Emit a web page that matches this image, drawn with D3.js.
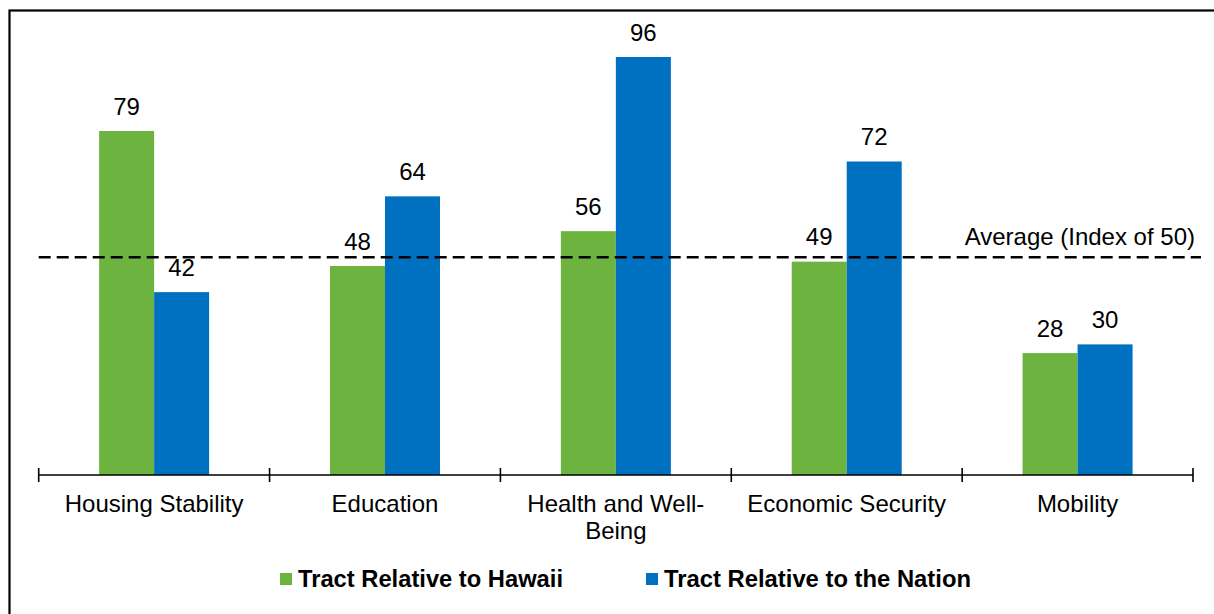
<!DOCTYPE html>
<html>
<head>
<meta charset="utf-8">
<script src="https://cdn.jsdelivr.net/npm/d3@7"></script>
<style>
  body { margin: 0; background: #fff; }
  svg { display: block; font-family: "Liberation Sans", Arial, sans-serif; }
</style>
</head>
<body>
<svg id="chart" width="1214" height="614"></svg>
<script>
// chart values
const categories = ["Housing Stability", "Education", "Health and Well-Being", "Economic Security", "Mobility"];
const hawaiiValues = [79, 48, 56, 49, 28];
const nationValues = [42, 64, 96, 72, 30];
const seriesNames = ["Tract Relative to Hawaii", "Tract Relative to the Nation"];
const averageValue = 50;
const averageLabel = "Average (Index of 50)";

const colors = ["#6db33f", "#0070c0"];
const fontSize = 24;

const svg = d3.select("#chart");

// frame (only top and left edges fall inside the picture)
svg.append("rect")
    .attr("x", 9.5).attr("y", 10.5)
    .attr("width", 1220).attr("height", 620)
    .attr("fill", "none")
    .attr("stroke", "#000")
    .attr("stroke-width", 2.2);

let plot = { left: 38.7, right: 1193, top: 39.6, bottom: 475 };

let x = d3.scaleBand()
    .domain(categories)
    .range([plot.left, plot.right]);

let inner = d3.scaleBand()
    .domain([0, 1])
    .range([0, 110]);

let y = d3.scaleLinear()
    .domain([0, 100])
    .range([plot.bottom, plot.top]);

let rows = categories.map((c, i) => ({ cat: c, values: [hawaiiValues[i], nationValues[i]] }));

let groups = svg.append("g")
    .selectAll("g")
    .data(rows)
    .enter()
    .append("g")
    .attr("transform", d => `translate(${x(d.cat) + x.bandwidth() / 2 - 55},0)`);

groups.selectAll("rect")
    .data(d => d.values.map((v, k) => ({ k, v })))
    .enter()
    .append("rect")
    .attr("x", d => inner(d.k))
    .attr("width", inner.bandwidth())
    .attr("y", d => y(d.v))
    .attr("height", d => y(0) - y(d.v))
    .attr("fill", d => colors[d.k]);

groups.selectAll("text")
    .data(d => d.values.map((v, k) => ({ k, v })))
    .enter()
    .append("text")
    .attr("x", d => inner(d.k) + inner.bandwidth() / 2)
    .attr("y", d => y(d.v) - 16.5)
    .attr("text-anchor", "middle")
    .attr("font-size", fontSize)
    .attr("fill", "#000")
    .text(d => d.v);

// category axis with ticks on the band edges
let axis = svg.append("g").attr("class", "axis");
axis.append("line")
    .attr("x1", plot.left).attr("x2", plot.right)
    .attr("y1", plot.bottom).attr("y2", plot.bottom)
    .attr("stroke", "#000").attr("stroke-width", 1.6);

let edges = categories.map(c => x(c)).concat([x.range()[1]]);
axis.selectAll("line.tick")
    .data(edges)
    .enter()
    .append("line")
    .attr("class", "tick")
    .attr("x1", d => d).attr("x2", d => d)
    .attr("y1", plot.bottom - 7).attr("y2", plot.bottom + 7)
    .attr("stroke", "#000").attr("stroke-width", 1.6);

let labels = axis.selectAll("text")
    .data(categories)
    .enter()
    .append("text")
    .attr("x", d => x(d) + x.bandwidth() / 2)
    .attr("y", plot.bottom + 37)
    .attr("text-anchor", "middle")
    .attr("font-size", fontSize)
    .attr("fill", "#000");

// wrap long labels on spaces / hyphens
labels.each(function(d) {
    let el = d3.select(this);
    let parts = d.match(/[^\s-]+-?\s?/g);
    let lines = [""];
    let probe = el.append("tspan");
    parts.forEach(p => {
        let trial = lines[lines.length - 1] + p;
        probe.text(trial.trim());
        if (probe.node().getComputedTextLength() > 215 && lines[lines.length - 1] !== "") {
            lines.push(p);
        } else {
            lines[lines.length - 1] = trial;
        }
    });
    probe.remove();
    lines.forEach((t, i) => {
        el.append("tspan")
            .attr("x", x(d) + x.bandwidth() / 2)
            .attr("dy", i === 0 ? 0 : 27)
            .text(t.trim());
    });
});

// average reference line
svg.append("line")
    .attr("x1", plot.left).attr("x2", 1201)
    .attr("y1", y(averageValue)).attr("y2", y(averageValue))
    .attr("stroke", "#000")
    .attr("stroke-width", 2.4)
    .attr("stroke-dasharray", "12,6");

svg.append("text")
    .attr("x", 1195)
    .attr("y", y(averageValue) - 12)
    .attr("text-anchor", "end")
    .attr("font-size", fontSize)
    .attr("fill", "#000")
    .text(averageLabel);

// legend
let legendPos = [{ x: 280, w: 265 }, { x: 646, w: 307 }];
let legend = svg.append("g")
    .selectAll("g")
    .data(seriesNames)
    .enter()
    .append("g")
    .attr("transform", (d, i) => `translate(${legendPos[i].x},573)`);

legend.append("rect")
    .attr("width", 12).attr("height", 12)
    .attr("fill", (d, i) => colors[i]);

legend.append("text")
    .attr("x", 18)
    .attr("y", 14)
    .attr("font-size", 23)
    .attr("font-weight", "bold")
    .attr("textLength", (d, i) => legendPos[i].w)
    .attr("lengthAdjust", "spacingAndGlyphs")
    .attr("fill", "#000")
    .text(d => d);
</script>
</body>
</html>
